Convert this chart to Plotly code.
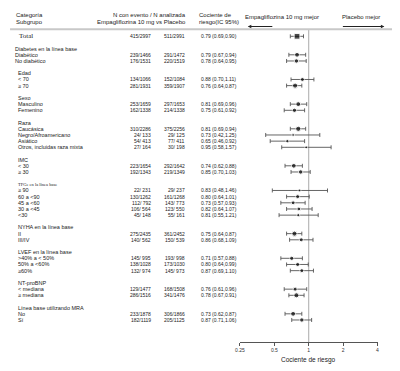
import math
import plotly.graph_objects as go

# ---------------- data ----------------
group_names = ["Diabetes en la línea base", "Edad", "Sexo", "Raza", "IMC",
               "TFGe en la línea base", "NYHA en la línea base", "LVEF en la línea base",
               "NT-proBNP", "Línea base utilizando MRA"]
group_sizes = [2, 2, 2, 4, 2, 5, 2, 3, 2, 2]
subgroup_labels = ["Diabético", "No diabético",
                   "< 70", "≥ 70",
                   "Masculino", "Femenino",
                   "Caucásica", "Negro/Afroamericano", "Asiático", "Otros, incluidas raza mixta",
                   "< 30", "≥ 30",
                   "≥ 90", "60 a <90", "45 a <60", "30 a <45", "<30",
                   "II", "III/IV",
                   ">40% a < 50%", "50% a <60%", "≥60%",
                   "< mediana", "≥ mediana",
                   "No", "Sí"]
# first entry = Total
empa_events = ["415/2997", "239/1466", "176/1531", "134/1066", "281/1931", "253/1659", "162/1338",
               "310/2286", "24/ 133", "54/ 413", "27/ 164", "223/1654", "192/1343",
               "22/ 231", "130/1262", "112/ 792", "106/ 564", "45/ 148",
               "275/2435", "140/ 562", "145/ 995", "138/1028", "132/ 974",
               "129/1477", "286/1516", "233/1878", "182/1119"]
placebo_events = ["511/2991", "291/1472", "220/1519", "152/1084", "359/1907", "297/1653", "214/1338",
                  "375/2256", "29/ 125", "77/ 411", "30/ 198", "292/1642", "219/1349",
                  "29/ 237", "161/1268", "143/ 773", "123/ 550", "55/ 161",
                  "361/2452", "150/ 539", "193/ 998", "173/1030", "145/ 973",
                  "168/1508", "341/1476", "306/1866", "205/1125"]
hr = [0.79, 0.79, 0.78, 0.88, 0.76, 0.81, 0.75, 0.81, 0.73, 0.65, 0.95, 0.74, 0.85,
      0.83, 0.80, 0.73, 0.82, 0.81, 0.75, 0.86, 0.71, 0.80, 0.87, 0.76, 0.78, 0.73, 0.87]
ci_low = [0.69, 0.67, 0.64, 0.70, 0.64, 0.69, 0.61, 0.69, 0.42, 0.46, 0.58, 0.62, 0.70,
          0.48, 0.64, 0.57, 0.64, 0.55, 0.64, 0.68, 0.57, 0.64, 0.69, 0.61, 0.67, 0.62, 0.71]
ci_high = [0.90, 0.94, 0.95, 1.11, 0.87, 0.96, 0.92, 0.94, 1.25, 0.92, 1.57, 0.88, 1.03,
           1.46, 1.01, 0.93, 1.07, 1.21, 0.87, 1.09, 0.88, 0.99, 1.10, 0.96, 0.91, 0.87, 1.06]
tick_values = [0.25, 0.5, 1, 2, 4]
tick_labels = ["0.25", "0.5", "1", "2", "4"]

# ---------------- layout helpers ----------------
W, H = 400, 371
OFF = 8  # page body margin offset
SANS = "Liberation Sans, Arial, sans-serif"
SERIF = "Liberation Serif, Times New Roman, serif"
TXT = "#222"
ROW0_PX, ROW_STEP = 36.3 - OFF, 6.167
AXIS_PX = 342.0 - OFF
y_top = -ROW0_PX / ROW_STEP
y_bot = (AXIS_PX - ROW0_PX) / ROW_STEP


def px(x):
    return (x - OFF) / W


def py(y):
    return 1 - (y - OFF) / H


def prow(y):
    return ((y - OFF) - ROW0_PX) / ROW_STEP


# row positions
data_rows = [0]
header_rows = []
r = 0
for size in group_sizes:
    h = r + 2
    header_rows.append(h)
    for k in range(size):
        data_rows.append(h + 1 + k)
    r = h + size


def n_events(s):
    return int(s.split("/")[0])


sizes = []
symbols = []
for i in range(len(hr)):
    ev = n_events(empa_events[i]) + n_events(placebo_events[i])
    sizes.append(1.8 + 4.0 * math.sqrt(ev / 926))
    symbols.append("square" if i == 0 else "circle")

fig = go.Figure()
fig.add_trace(go.Scatter(x=[1, 1], y=[prow(29.3), y_bot],
                         mode="lines", line=dict(color="#aaaaaa", width=1),
                         hoverinfo="skip", showlegend=False))
fig.add_trace(go.Scatter(
    x=hr, y=data_rows, mode="markers",
    marker=dict(size=sizes, symbol=symbols, color="black"),
    error_x=dict(type="data", symmetric=False,
                 array=[h - v for h, v in zip(ci_high, hr)],
                 arrayminus=[v - l for v, l in zip(hr, ci_low)],
                 color="#555", thickness=0.9, width=2),
    showlegend=False))

ann = []


def add_text(x, y, text, size=5.5, anchor="left", yref="y", family=SANS, color=TXT):
    ann.append(dict(x=x, y=y, xref="paper", yref=yref, text=text, showarrow=False,
                    xanchor=anchor, yanchor="middle",
                    font=dict(family=family, size=size, color=color)))


# headers
add_text(px(9), py(14.5), "Categoría", 6, yref="paper")
add_text(px(9), py(21.5), "Subgrupo", 6, yref="paper")
add_text(px(186), py(14.5), "N con evento / N analizada", 6, "right", yref="paper")
add_text(px(186), py(21.5), "Empagliflozina 10 mg vs Placebo", 6, "right", yref="paper")
add_text(px(195), py(14.5), "Cociente de", 6, yref="paper")
add_text(px(195), py(21.5), "riesgo(IC 95%)", 6, yref="paper")
add_text(px(282), py(16.5), "Empagliflozina 10 mg mejor", 6, "center", yref="paper")
add_text(px(362), py(16.5), "Placebo mejor", 6, "center", yref="paper")

# arrows
ann.append(dict(x=px(247), y=py(26.5), xref="paper", yref="paper", text="",
                showarrow=True, ax=26, ay=0, axref="pixel", ayref="pixel",
                arrowhead=2, arrowsize=0.7, arrowwidth=1, arrowcolor="#222"))
ann.append(dict(x=px(386), y=py(26.5), xref="paper", yref="paper", text="",
                showarrow=True, ax=-43, ay=0, axref="pixel", ayref="pixel",
                arrowhead=2, arrowsize=0.7, arrowwidth=1, arrowcolor="#222"))

# group headers
for gi, (g, hrow) in enumerate(zip(group_names, header_rows)):
    x0 = 7.5 if gi == 0 else 11
    if g.startswith("TFGe"):
        add_text(px(x0), hrow, g, 4.5, family=SERIF)
    else:
        add_text(px(x0), hrow, g, 5.5)

# data rows
labels = ["Total"] + subgroup_labels
for i, row in enumerate(data_rows):
    if i == 0:
        add_text(px(12.5), row, labels[i], 7, family=SERIF)
    else:
        x0 = 7.5 if i <= group_sizes[0] else 11
        add_text(px(x0), row, labels[i], 5.5)
    add_text(px(150), row, empa_events[i], 5, "right")
    add_text(px(185), row, placebo_events[i], 5, "right")
    add_text(px(197), row, f"{hr[i]:.2f} ({ci_low[i]:.2f},{ci_high[i]:.2f})", 5)

# axis title
add_text(px(309), py(360), "Cociente de riesgo", 6.5, "center", yref="paper")

fig.update_layout(
    width=W, height=H, margin=dict(l=0, r=0, t=0, b=0),
    paper_bgcolor="white", plot_bgcolor="white",
    showlegend=False, annotations=ann,
    shapes=[dict(type="line", xref="paper", yref="paper", x0=px(5), x1=px(397),
                 y0=py(29.3), y1=py(29.3), line=dict(color="#c8c8c8", width=2))],
    xaxis=dict(type="log", domain=[(239 - OFF) / W, (379 - OFF) / W],
               range=[math.log10(0.25), math.log10(4)],
               tickvals=tick_values, ticktext=tick_labels,
               showgrid=False, zeroline=False, showline=True,
               linecolor="#555", linewidth=1, ticks="outside", ticklen=3,
               tickwidth=1, tickcolor="#555",
               tickfont=dict(family=SANS, size=5, color="#333")),
    yaxis=dict(range=[y_bot, y_top], domain=[(H - AXIS_PX) / H, 1], visible=False),
)

fig.write_html("out.html")
